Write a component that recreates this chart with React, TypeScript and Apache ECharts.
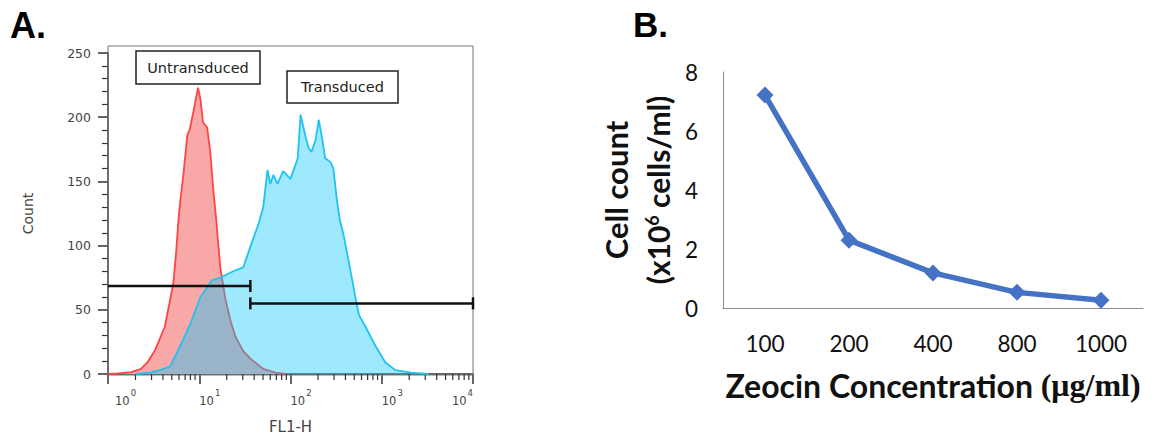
import React, { useEffect, useRef } from "react";
import * as echarts from "echarts";

// ---- Panel A: flow cytometry histogram (FL1-H, log scale) ----
const untransducedFL1 = [1.0, 1.3, 1.8, 2.3, 2.7, 3.3, 4.2, 4.8, 5.2, 5.6, 5.9, 6.2, 6.7, 7.4, 7.9, 8.6, 9.7, 10.3, 11.0, 12.2, 13.2, 14.2, 15.4, 15.8, 17.0, 19.4, 21.9, 24.9, 30.3, 36.3, 50.3, 68.5, 87.6];
const untransducedCount = [0, 0.5, 1.5, 4, 9, 19, 37, 58, 71, 96, 119, 135, 155, 186, 191, 204, 223, 214, 196, 192, 173, 145, 119, 109, 83, 58, 42, 29, 18, 12, 4, 1, 0];

const transducedFL1 = [2.0, 2.9, 3.7, 4.8, 6.2, 7.9, 10.3, 11.6, 13.8, 17.0, 23.6, 30.3, 36.3, 44.7, 50.3, 56, 60, 65, 72, 83, 100, 120, 129, 146, 158, 170, 188, 204, 219, 240, 275, 295, 323, 347, 380, 447, 513, 562, 661, 851, 1096, 1413, 2089, 3236];
const transducedCount = [0, 1, 3, 6, 22, 38, 60, 65, 73, 75, 80, 83, 99, 117, 130, 159, 148, 155, 148, 158, 152, 168, 202, 185, 176, 173, 182, 198, 186, 168, 165, 160, 135, 120, 109, 83, 60, 46, 37, 22, 9, 3, 1, 0];

// gates: start, end, level, bar at start (1/0)
const gateStart = [1, 36.3];
const gateEnd = [36.3, 10000];
const gateLevel = [68.5, 55];
const gateStartBar = [0, 1];

const logMinorTicks: number[] = [];
for (let d = 1; d <= 1000; d *= 10) {
  for (let k = 2; k <= 9; k++) logMinorTicks.push(k * d);
}

// ---- Panel B: Zeocin kill curve ----
const concentrations = ["100", "200", "400", "800", "1000"];
const cellCounts = [7.22, 2.3, 1.19, 0.53, 0.26];

export default function App() {
  const ref = useRef<HTMLDivElement>(null);

  useEffect(() => {
    if (!ref.current) return;
    const chart = echarts.init(ref.current, undefined, { renderer: "svg" });

    const fA = "DejaVu Sans";
    const fB = "Lato";
    const cA = "#444";

    const option: any = {
      animation: false,
      backgroundColor: "#ffffff",
      grid: [
        { left: 108, top: 53, width: 365, height: 322 },
        { left: 723, top: 72, width: 420, height: 236 },
      ],
      xAxis: [
        {
          gridIndex: 0,
          type: "log",
          logBase: 10,
          min: 1,
          max: 10000,
          splitNumber: 4,
          name: "FL1-H",
          nameLocation: "middle",
          nameGap: 45,
          nameTextStyle: { fontFamily: fA, fontSize: 15, color: cA },
          axisLine: { lineStyle: { color: "#333", width: 1.5 } },
          axisTick: { length: 10, lineStyle: { color: "#333", width: 1.5 } },
          splitLine: { show: false },
          axisLabel: {
            margin: 14,
            align: "left",
            alignMaxLabel: "right",
            formatter: (v: number) => {
              const e = Math.round(Math.log10(v));
              return e === 0 ? `{b0|10}{s|${e}}` : `{b|10}{s|${e}}`;
            },
            rich: {
              b: { fontFamily: fA, fontSize: 11.5, color: cA },
              b0: { fontFamily: fA, fontSize: 11.5, color: cA, padding: [0, 0, 0, 7] },
              s: { fontFamily: fA, fontSize: 8.5, color: cA, padding: [0, 0, 16, 1] },
            },
          },
        },
        {
          gridIndex: 1,
          type: "category",
          data: concentrations,
          boundaryGap: true,
          axisLine: { lineStyle: { color: "#8c8c8c", width: 1 } },
          axisTick: { length: 10, lineStyle: { color: "#8c8c8c" } },
          axisLabel: { margin: 24, fontFamily: fB, fontSize: 22.5, color: "#111" },
          name: "Zeocin Concentration {s|(μg/ml)}",
          nameLocation: "middle",
          nameGap: 61,
          nameTextStyle: {
            fontFamily: fB,
            fontWeight: "bold",
            fontSize: 32,
            color: "#111",
            rich: {
              s: { fontFamily: "Liberation Serif", fontWeight: "bold", fontSize: 32, color: "#111" },
            },
          },
        },
      ],
      yAxis: [
        {
          gridIndex: 0,
          type: "value",
          min: 0,
          max: 250,
          interval: 50,
          name: "Count",
          nameLocation: "middle",
          nameRotate: 90,
          nameGap: 73,
          nameTextStyle: { fontFamily: fA, fontSize: 14, color: cA },
          axisLine: { show: true, lineStyle: { color: "#333", width: 1.5 } },
          axisTick: { show: true, length: 10, lineStyle: { color: "#333", width: 1.5 } },
          minorTick: { show: true, splitNumber: 5, length: 6, lineStyle: { color: "#333", width: 1.2 } },
          splitLine: { show: false },
          axisLabel: { margin: 17, fontFamily: fA, fontSize: 12.5, color: cA },
        },
        {
          gridIndex: 1,
          type: "value",
          min: 0,
          max: 8,
          interval: 2,
          name: "{a|Cell count}\n{b|(x10}{sup|6}{b| cells/ml)}",
          nameLocation: "middle",
          nameRotate: 90,
          nameGap: 44,
          nameTextStyle: {
            rich: {
              a: { fontFamily: fB, fontWeight: "bold", fontSize: 31, color: "#111", lineHeight: 42 },
              b: { fontFamily: fB, fontWeight: "bold", fontSize: 30, color: "#111", lineHeight: 42 },
              sup: { fontFamily: fB, fontWeight: "bold", fontSize: 18, color: "#111", padding: [0, 0, 13, 0] },
            },
          },
          axisLine: { show: true, lineStyle: { color: "#8c8c8c", width: 1 } },
          axisTick: { show: false },
          splitLine: { show: false },
          axisLabel: { margin: 25, fontFamily: fB, fontSize: 22.5, color: "#111" },
        },
      ],
      series: [
        {
          name: "Untransduced",
          type: "line",
          xAxisIndex: 0,
          yAxisIndex: 0,
          data: untransducedFL1.map((x, i) => [x, untransducedCount[i]]),
          showSymbol: false,
          lineStyle: { color: "#ff4545", width: 1.8 },
          areaStyle: { color: "#f9a8a8", opacity: 1 },
          z: 2,
        },
        {
          name: "Transduced",
          type: "line",
          xAxisIndex: 0,
          yAxisIndex: 0,
          data: transducedFL1.map((x, i) => [x, transducedCount[i]]),
          showSymbol: false,
          lineStyle: { color: "#1fc3f2", width: 1.8 },
          areaStyle: { color: "rgba(12,200,250,0.4)", opacity: 1 },
          z: 3,
        },
        {
          name: "gates",
          type: "custom",
          xAxisIndex: 0,
          yAxisIndex: 0,
          clip: false,
          silent: true,
          z: 5,
          data: gateStart.map((s, i) => [s, gateLevel[i], gateEnd[i], gateStartBar[i]]),
          renderItem: (_p: any, api: any) => {
            const y = api.value(1);
            const p1 = api.coord([api.value(0), y]);
            const p2 = api.coord([api.value(2), y]);
            const st = { stroke: "#111", lineWidth: 2.5 };
            const children: any[] = [
              { type: "line", shape: { x1: p1[0], y1: p1[1], x2: p2[0], y2: p2[1] }, style: st },
              { type: "line", shape: { x1: p2[0], y1: p2[1] - 6, x2: p2[0], y2: p2[1] + 6 }, style: st },
            ];
            if (api.value(3)) {
              children.push({ type: "line", shape: { x1: p1[0], y1: p1[1] - 6, x2: p1[0], y2: p1[1] + 6 }, style: st });
            }
            return { type: "group", children };
          },
        },
        {
          name: "minorTicks",
          type: "custom",
          xAxisIndex: 0,
          yAxisIndex: 0,
          clip: false,
          silent: true,
          data: logMinorTicks.map((v) => [v, 0]),
          renderItem: (_p: any, api: any) => {
            const p = api.coord([api.value(0), 0]);
            return {
              type: "line",
              shape: { x1: p[0], y1: p[1], x2: p[0], y2: p[1] + 6 },
              style: { stroke: "#333", lineWidth: 1.2 },
            };
          },
        },
        {
          name: "Cell count",
          type: "line",
          xAxisIndex: 1,
          yAxisIndex: 1,
          data: cellCounts,
          symbol: "diamond",
          symbolSize: 17,
          lineStyle: { color: "#4472C4", width: 5.5 },
          itemStyle: { color: "#4472C4" },
        },
      ],
      graphic: [
        { type: "rect", shape: { x: 108, y: 46, width: 365, height: 329 }, style: { fill: "none", stroke: "#777", lineWidth: 1 }, z: 1 },
        { type: "text", x: 10, y: 25, style: { text: "A.", font: 'bold 36px "Liberation Sans"', fill: "#000", verticalAlign: "middle", align: "left" } },
        { type: "text", x: 633, y: 24, style: { text: "B.", font: 'bold 35px "Liberation Sans"', fill: "#000", verticalAlign: "middle", align: "left" } },
        { type: "rect", shape: { x: 136, y: 51, width: 124, height: 33 }, style: { fill: "#fff", stroke: "#222", lineWidth: 1.5 }, z: 10 },
        { type: "text", x: 198, y: 67.5, style: { text: "Untransduced", font: '14.5px "DejaVu Sans"', fill: "#222", align: "center", verticalAlign: "middle" }, z: 11 },
        { type: "rect", shape: { x: 287, y: 71, width: 111, height: 32 }, style: { fill: "#fff", stroke: "#222", lineWidth: 1.5 }, z: 10 },
        { type: "text", x: 342.5, y: 87, style: { text: "Transduced", font: '14.5px "DejaVu Sans"', fill: "#222", align: "center", verticalAlign: "middle" }, z: 11 },
      ],
    };

    chart.setOption(option);
    return () => chart.dispose();
  }, []);

  return (
    <div
      ref={ref}
      style={{ position: "fixed", left: 0, top: 0, width: 1158, height: 439 }}
    />
  );
}
